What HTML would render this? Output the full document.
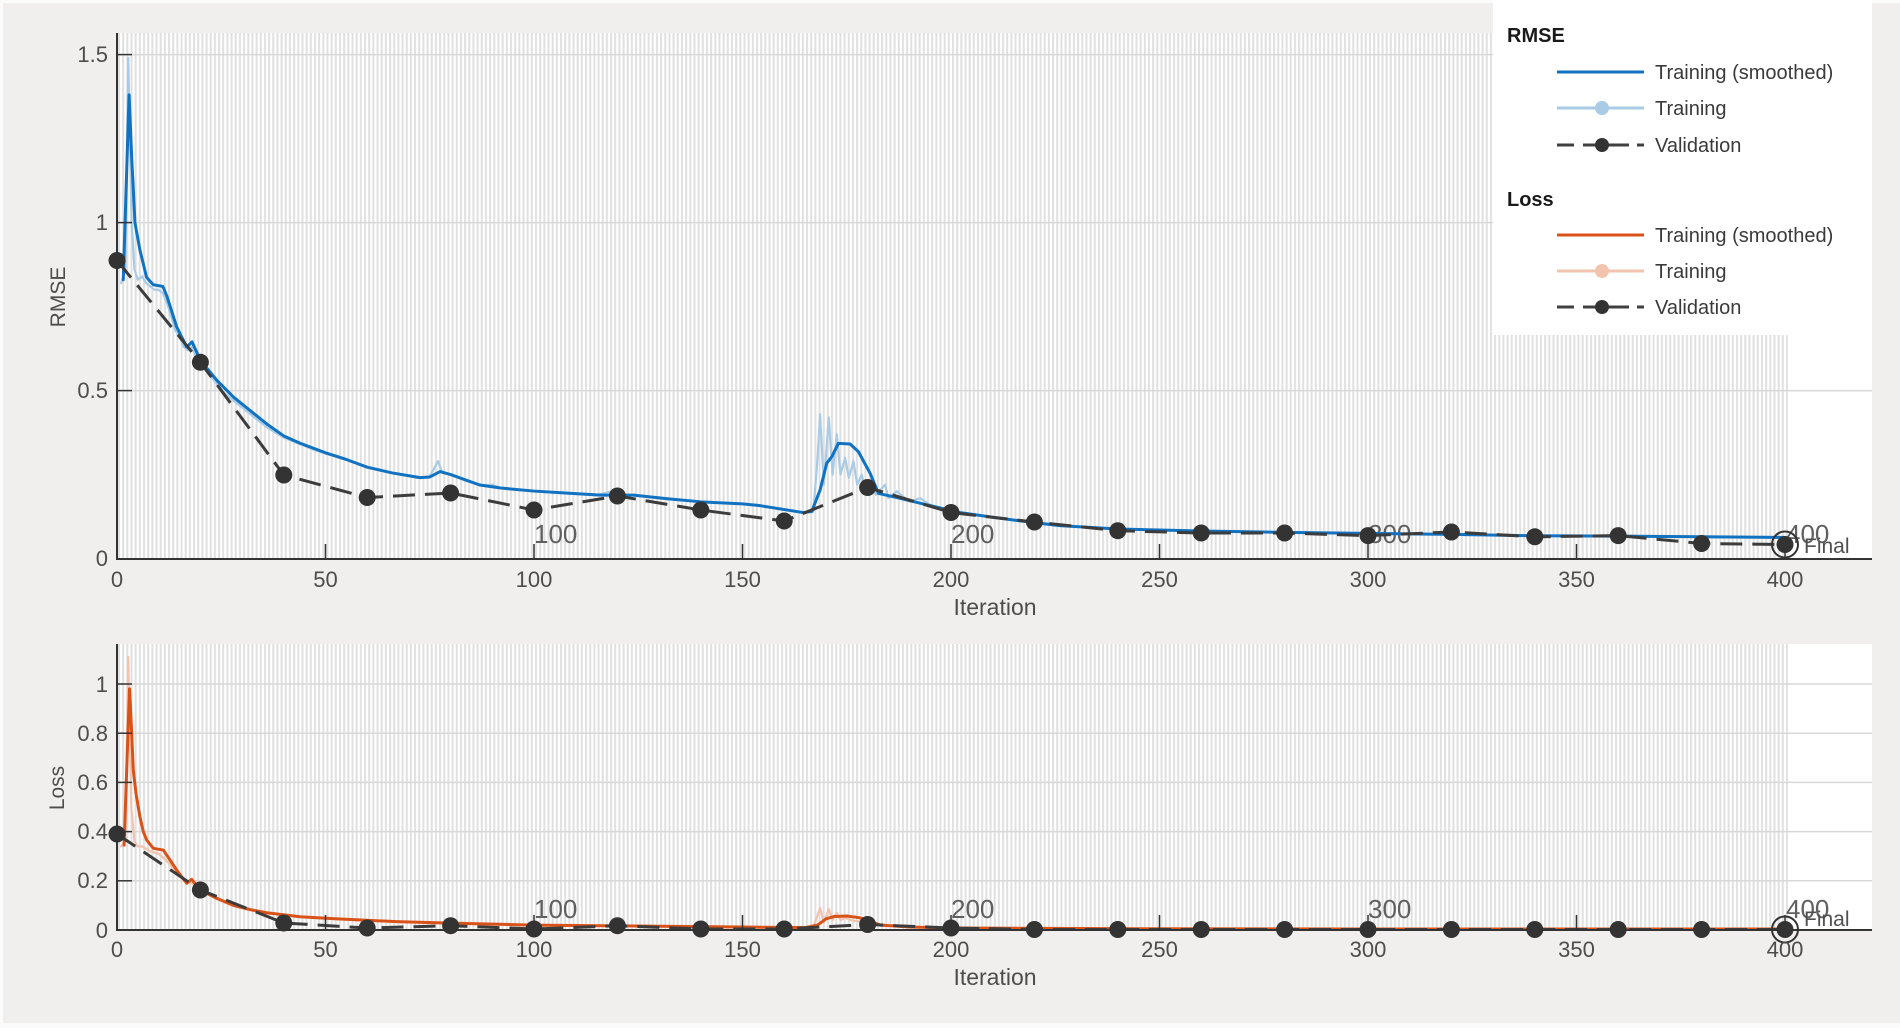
<!DOCTYPE html>
<html><head><meta charset="utf-8"><style>
html,body{margin:0;padding:0;background:#f0efee;}
svg{display:block;font-family:"Liberation Sans",Arial,sans-serif;}
</style></head><body>
<svg width="1900" height="1028" viewBox="0 0 1900 1028" xmlns="http://www.w3.org/2000/svg">
<defs>
<pattern id="st" patternUnits="userSpaceOnUse" x="117" y="0" width="4.17" height="20">
<rect x="0" y="0" width="4.17" height="20" fill="#ffffff"/>
<rect x="1" y="0" width="2.0" height="20" fill="#e0e0e0"/>
</pattern>
</defs>
<rect x="0" y="0" width="1900" height="1028" fill="#f0efee"/>
<rect x="0" y="0" width="1900" height="3" fill="#fbfbfb"/>
<rect x="0" y="0" width="3" height="1028" fill="#fbfbfb"/>
<rect x="0" y="1023" width="1900" height="5" fill="#fbfbfb"/>

<!-- ===== Upper panel ===== -->
<rect x="117" y="33" width="1755" height="526" fill="#ffffff"/>
<rect x="117" y="33" width="1671" height="526" fill="url(#st)"/>
<g stroke="#d8d8d8" stroke-width="1.5">
<line x1="117" y1="54.6" x2="1872" y2="54.6"/>
<line x1="117" y1="222.6" x2="1872" y2="222.6"/>
<line x1="117" y1="390.6" x2="1872" y2="390.6"/>
</g>
<g font-size="26" fill="#606060">
<text x="534" y="543">100</text>
<text x="951" y="543">200</text>
<text x="1368" y="543">300</text>
<text x="1786" y="543">400</text>
</g>
<text x="1804" y="553" font-size="21" fill="#505050">Final</text>

<g transform="translate(117 558.6) scale(4.17 -336)" fill="none" stroke-linejoin="round" stroke-linecap="round">
<polyline vector-effect="non-scaling-stroke" stroke="#a9cbe6" stroke-width="2.2" points="1,0.82 2,0.86 2.7,1.49 3.5,1.0 4.2,0.86 5,0.83 6,0.84 7,0.82 8,0.81 9,0.80 10,0.80 11,0.79 12,0.76 13,0.72 14,0.68 15,0.66 16,0.63 17,0.62 18,0.63 19,0.6 20,0.58 22,0.55 24,0.52 26,0.49 28,0.47 30,0.45 33,0.42 36,0.39 40,0.36 44,0.34 48,0.32 52,0.305 56,0.29 60,0.272 66,0.255 72,0.24 75,0.245 77,0.29 78,0.255 80,0.25 84,0.23 87,0.218 90,0.22 92,0.21 96,0.205 100,0.2 105,0.196 110,0.192 115,0.189 118,0.198 120,0.205 122,0.19 130,0.179 140,0.169 150,0.163 155,0.155 160,0.145 165,0.138 167,0.14 168,0.30 168.6,0.43 169.5,0.22 170.7,0.42 171.6,0.25 172.6,0.37 173.5,0.25 174.6,0.30 175.5,0.24 176.6,0.29 177.5,0.22 178.6,0.25 179.5,0.2 180.6,0.23 182,0.19 184.2,0.22 185,0.18 187,0.2 190,0.17 192.6,0.18 195,0.16 200,0.14 210,0.122 220,0.108 230,0.096 240,0.088 260,0.082 280,0.078 300,0.074 320,0.072 340,0.068 360,0.066 380,0.064 400,0.062"/>
<polyline vector-effect="non-scaling-stroke" stroke="#1172c2" stroke-width="3" points="1.5,0.83 2.9,1.38 3.5,1.2 4.3,1.0 5.5,0.918 7.1,0.837 8.7,0.815 11,0.81 12,0.78 14.3,0.69 16.7,0.63 18,0.645 20,0.59 24,0.53 28,0.48 32,0.44 36,0.40 40,0.365 44,0.343 50,0.315 55,0.295 60,0.272 66,0.255 72.7,0.241 75,0.243 77.5,0.259 80,0.25 87,0.219 92,0.21 100,0.201 108,0.195 116,0.189 124,0.189 132,0.178 140,0.169 150,0.163 154,0.158 158,0.15 164.5,0.137 166.6,0.14 168.6,0.204 170.2,0.284 171.4,0.303 173,0.343 175.8,0.341 177.8,0.318 180.6,0.254 182.6,0.194 186.2,0.184 194.2,0.16 202.2,0.137 210,0.123 218,0.11 226,0.098 240,0.088 260,0.082 280,0.078 300,0.075 320,0.072 340,0.068 360,0.067 380,0.065 400,0.063"/>
</g>
<polyline fill="none" stroke="#3c3c3c" stroke-width="3" stroke-dasharray="22 10" points="117,260.5 200.4,362.3 283.8,475 367.2,497.5 450.6,493 534,510 617.4,496 700.8,510 784.2,521 867.6,487.5 951,512.5 1034.4,522 1117.8,530.7 1201.2,533 1284.6,533 1368,535.6 1451.4,532 1534.8,536.8 1618.2,535.6 1701.6,543.5 1785,544.5"/>
<g fill="#333333">
<circle cx="117" cy="260.5" r="8.5"/><circle cx="200.4" cy="362.3" r="8.5"/><circle cx="283.8" cy="475" r="8.5"/><circle cx="367.2" cy="497.5" r="8.5"/><circle cx="450.6" cy="493" r="8.5"/><circle cx="534" cy="510" r="8.5"/><circle cx="617.4" cy="496" r="8.5"/><circle cx="700.8" cy="510" r="8.5"/><circle cx="784.2" cy="521" r="8.5"/><circle cx="867.6" cy="487.5" r="8.5"/><circle cx="951" cy="512.5" r="8.5"/><circle cx="1034.4" cy="522" r="8.5"/><circle cx="1117.8" cy="530.7" r="8.5"/><circle cx="1201.2" cy="533" r="8.5"/><circle cx="1284.6" cy="533" r="8.5"/><circle cx="1368" cy="535.6" r="8.5"/><circle cx="1451.4" cy="532" r="8.5"/><circle cx="1534.8" cy="536.8" r="8.5"/><circle cx="1618.2" cy="535.6" r="8.5"/><circle cx="1701.6" cy="543.5" r="8.5"/><circle cx="1785" cy="544.5" r="8.5"/>
</g>
<circle cx="1785" cy="544.5" r="13" fill="none" stroke="#333" stroke-width="2"/>

<g stroke="#333333" stroke-width="2">
<line x1="117" y1="33" x2="117" y2="559.5"/>
<line x1="116" y1="559" x2="1872" y2="559"/>
</g>
<g stroke="#333333" stroke-width="1.5">
<line x1="117" y1="54.6" x2="132" y2="54.6"/><line x1="117" y1="222.6" x2="132" y2="222.6"/><line x1="117" y1="390.6" x2="132" y2="390.6"/>
<line x1="325.5" y1="559" x2="325.5" y2="544"/><line x1="534" y1="559" x2="534" y2="544"/><line x1="742.5" y1="559" x2="742.5" y2="544"/><line x1="951" y1="559" x2="951" y2="544"/><line x1="1159.5" y1="559" x2="1159.5" y2="544"/><line x1="1368" y1="559" x2="1368" y2="544"/><line x1="1576.5" y1="559" x2="1576.5" y2="544"/><line x1="1785" y1="559" x2="1785" y2="544"/>
</g>
<g font-size="22" fill="#4d4d4d" text-anchor="end">
<text x="108" y="62">1.5</text><text x="108" y="230">1</text><text x="108" y="398">0.5</text><text x="108" y="566">0</text>
</g>
<g font-size="22" fill="#4d4d4d" text-anchor="middle">
<text x="117" y="587">0</text><text x="325.5" y="587">50</text><text x="534" y="587">100</text><text x="742.5" y="587">150</text><text x="951" y="587">200</text><text x="1159.5" y="587">250</text><text x="1368" y="587">300</text><text x="1576.5" y="587">350</text><text x="1785" y="587">400</text>
<text x="995" y="615" font-size="23">Iteration</text>
</g>
<text transform="translate(65 297) rotate(-90)" font-size="21" fill="#4d4d4d" text-anchor="middle">RMSE</text>

<!-- ===== Lower panel ===== -->
<rect x="117" y="644" width="1755" height="286" fill="#ffffff"/>
<rect x="117" y="644" width="1671" height="286" fill="url(#st)"/>
<g stroke="#d8d8d8" stroke-width="1.5">
<line x1="117" y1="684" x2="1872" y2="684"/>
<line x1="117" y1="733.2" x2="1872" y2="733.2"/>
<line x1="117" y1="782.4" x2="1872" y2="782.4"/>
<line x1="117" y1="831.6" x2="1872" y2="831.6"/>
<line x1="117" y1="880.8" x2="1872" y2="880.8"/>
</g>
<g font-size="26" fill="#606060">
<text x="534" y="918">100</text>
<text x="951" y="918">200</text>
<text x="1368" y="918">300</text>
<text x="1786" y="918">400</text>
</g>
<text x="1804" y="926" font-size="21" fill="#505050">Final</text>

<g transform="translate(117 930) scale(4.17 -246)" fill="none" stroke-linejoin="round" stroke-linecap="round">
<polyline vector-effect="non-scaling-stroke" stroke="#f2c4ae" stroke-width="2.2" points="1,0.34 2,0.36 2.7,1.11 3.4,0.5 4.2,0.36 5,0.34 6,0.34 7,0.33 8,0.32 10,0.31 12,0.28 14,0.24 16,0.2 18,0.19 20,0.16 24,0.125 28,0.098 32,0.08 36,0.068 44,0.052 52,0.044 67,0.033 80,0.026 100,0.019 120,0.016 150,0.011 165,0.01 167,0.01 168,0.06 168.6,0.09 169.5,0.03 170.7,0.085 171.6,0.04 172.6,0.07 173.5,0.04 174.6,0.05 176,0.04 178,0.035 180,0.03 185,0.02 190,0.012 200,0.008 250,0.005 300,0.004 400,0.004"/>
<polyline vector-effect="non-scaling-stroke" stroke="#d95319" stroke-width="3" points="1.7,0.345 3,0.98 3.5,0.81 3.9,0.65 4.6,0.55 5.5,0.46 6.3,0.4 7.1,0.366 8.7,0.332 11.1,0.325 12.7,0.285 14.3,0.244 16.7,0.19 17.9,0.206 19.9,0.163 23.9,0.129 27.9,0.10 31.9,0.083 35.9,0.07 43.9,0.054 51.8,0.046 67,0.034 80,0.028 100,0.02 120,0.017 150,0.012 165,0.01 168,0.02 170,0.045 172,0.055 175,0.057 178,0.05 180,0.04 183,0.02 190,0.012 200,0.008 250,0.005 300,0.004 400,0.004"/>
</g>
<polyline fill="none" stroke="#3c3c3c" stroke-width="3" stroke-dasharray="22 10" points="117,834 200.4,890 283.8,923 367.2,928 450.6,925.7 534,929 617.4,925.7 700.8,929 784.2,929 867.6,924.5 951,928 1034.4,929.5 1117.8,929.5 1201.2,929.5 1284.6,929.5 1368,929.5 1451.4,929.5 1534.8,929.5 1618.2,929.5 1701.6,929.5 1785,929.5"/>
<g fill="#333333">
<circle cx="117" cy="834" r="8.5"/><circle cx="200.4" cy="890" r="8.5"/><circle cx="283.8" cy="923" r="8.5"/><circle cx="367.2" cy="928" r="8.5"/><circle cx="450.6" cy="925.7" r="8.5"/><circle cx="534" cy="929" r="8.5"/><circle cx="617.4" cy="925.7" r="8.5"/><circle cx="700.8" cy="929" r="8.5"/><circle cx="784.2" cy="929" r="8.5"/><circle cx="867.6" cy="924.5" r="8.5"/><circle cx="951" cy="928" r="8.5"/><circle cx="1034.4" cy="929.5" r="8.5"/><circle cx="1117.8" cy="929.5" r="8.5"/><circle cx="1201.2" cy="929.5" r="8.5"/><circle cx="1284.6" cy="929.5" r="8.5"/><circle cx="1368" cy="929.5" r="8.5"/><circle cx="1451.4" cy="929.5" r="8.5"/><circle cx="1534.8" cy="929.5" r="8.5"/><circle cx="1618.2" cy="929.5" r="8.5"/><circle cx="1701.6" cy="929.5" r="8.5"/><circle cx="1785" cy="929.5" r="8.5"/>
</g>
<circle cx="1785" cy="929.5" r="13" fill="none" stroke="#333" stroke-width="2"/>

<g stroke="#333333" stroke-width="2">
<line x1="117" y1="644" x2="117" y2="930.5"/>
<line x1="116" y1="930" x2="1872" y2="930"/>
</g>
<g stroke="#333333" stroke-width="1.5">
<line x1="117" y1="684" x2="132" y2="684"/><line x1="117" y1="733.2" x2="132" y2="733.2"/><line x1="117" y1="782.4" x2="132" y2="782.4"/><line x1="117" y1="831.6" x2="132" y2="831.6"/><line x1="117" y1="880.8" x2="132" y2="880.8"/>
<line x1="325.5" y1="930" x2="325.5" y2="915"/><line x1="534" y1="930" x2="534" y2="915"/><line x1="742.5" y1="930" x2="742.5" y2="915"/><line x1="951" y1="930" x2="951" y2="915"/><line x1="1159.5" y1="930" x2="1159.5" y2="915"/><line x1="1368" y1="930" x2="1368" y2="915"/><line x1="1576.5" y1="930" x2="1576.5" y2="915"/><line x1="1785" y1="930" x2="1785" y2="915"/>
</g>
<g font-size="22" fill="#4d4d4d" text-anchor="end">
<text x="108" y="692">1</text><text x="108" y="741">0.8</text><text x="108" y="790">0.6</text><text x="108" y="839">0.4</text><text x="108" y="888">0.2</text><text x="108" y="938">0</text>
</g>
<g font-size="22" fill="#4d4d4d" text-anchor="middle">
<text x="117" y="957">0</text><text x="325.5" y="957">50</text><text x="534" y="957">100</text><text x="742.5" y="957">150</text><text x="951" y="957">200</text><text x="1159.5" y="957">250</text><text x="1368" y="957">300</text><text x="1576.5" y="957">350</text><text x="1785" y="957">400</text>
<text x="995" y="985" font-size="23">Iteration</text>
</g>
<text transform="translate(64 788) rotate(-90)" font-size="21" fill="#4d4d4d" text-anchor="middle">Loss</text>

<!-- ===== Legend ===== -->
<rect x="1493" y="0" width="379" height="335" fill="#ffffff"/>
<text x="1507" y="42" font-size="20" font-weight="bold" fill="#1a1a1a">RMSE</text>
<line x1="1557" y1="72" x2="1644" y2="72" stroke="#1172c2" stroke-width="3"/>
<line x1="1557" y1="108" x2="1644" y2="108" stroke="#a9cbe6" stroke-width="3"/>
<circle cx="1602" cy="108" r="7" fill="#a9cbe6"/>
<g stroke="#404040" stroke-width="3">
<line x1="1557" y1="145" x2="1574" y2="145"/><line x1="1583" y1="145" x2="1629" y2="145"/><line x1="1637" y1="145" x2="1644" y2="145"/>
</g>
<circle cx="1602" cy="145" r="7" fill="#333"/>
<text x="1507" y="206" font-size="20" font-weight="bold" fill="#1a1a1a">Loss</text>
<line x1="1557" y1="235" x2="1644" y2="235" stroke="#d95319" stroke-width="3"/>
<line x1="1557" y1="271" x2="1644" y2="271" stroke="#f2c4ae" stroke-width="3"/>
<circle cx="1602" cy="271" r="7" fill="#f2c4ae"/>
<g stroke="#404040" stroke-width="3">
<line x1="1557" y1="307" x2="1574" y2="307"/><line x1="1583" y1="307" x2="1629" y2="307"/><line x1="1637" y1="307" x2="1644" y2="307"/>
</g>
<circle cx="1602" cy="307" r="7" fill="#333"/>
<g font-size="20" fill="#3a3a3a">
<text x="1655" y="79">Training (smoothed)</text>
<text x="1655" y="115">Training</text>
<text x="1655" y="152">Validation</text>
<text x="1655" y="242">Training (smoothed)</text>
<text x="1655" y="278">Training</text>
<text x="1655" y="314">Validation</text>
</g>
</svg>
</body></html>
